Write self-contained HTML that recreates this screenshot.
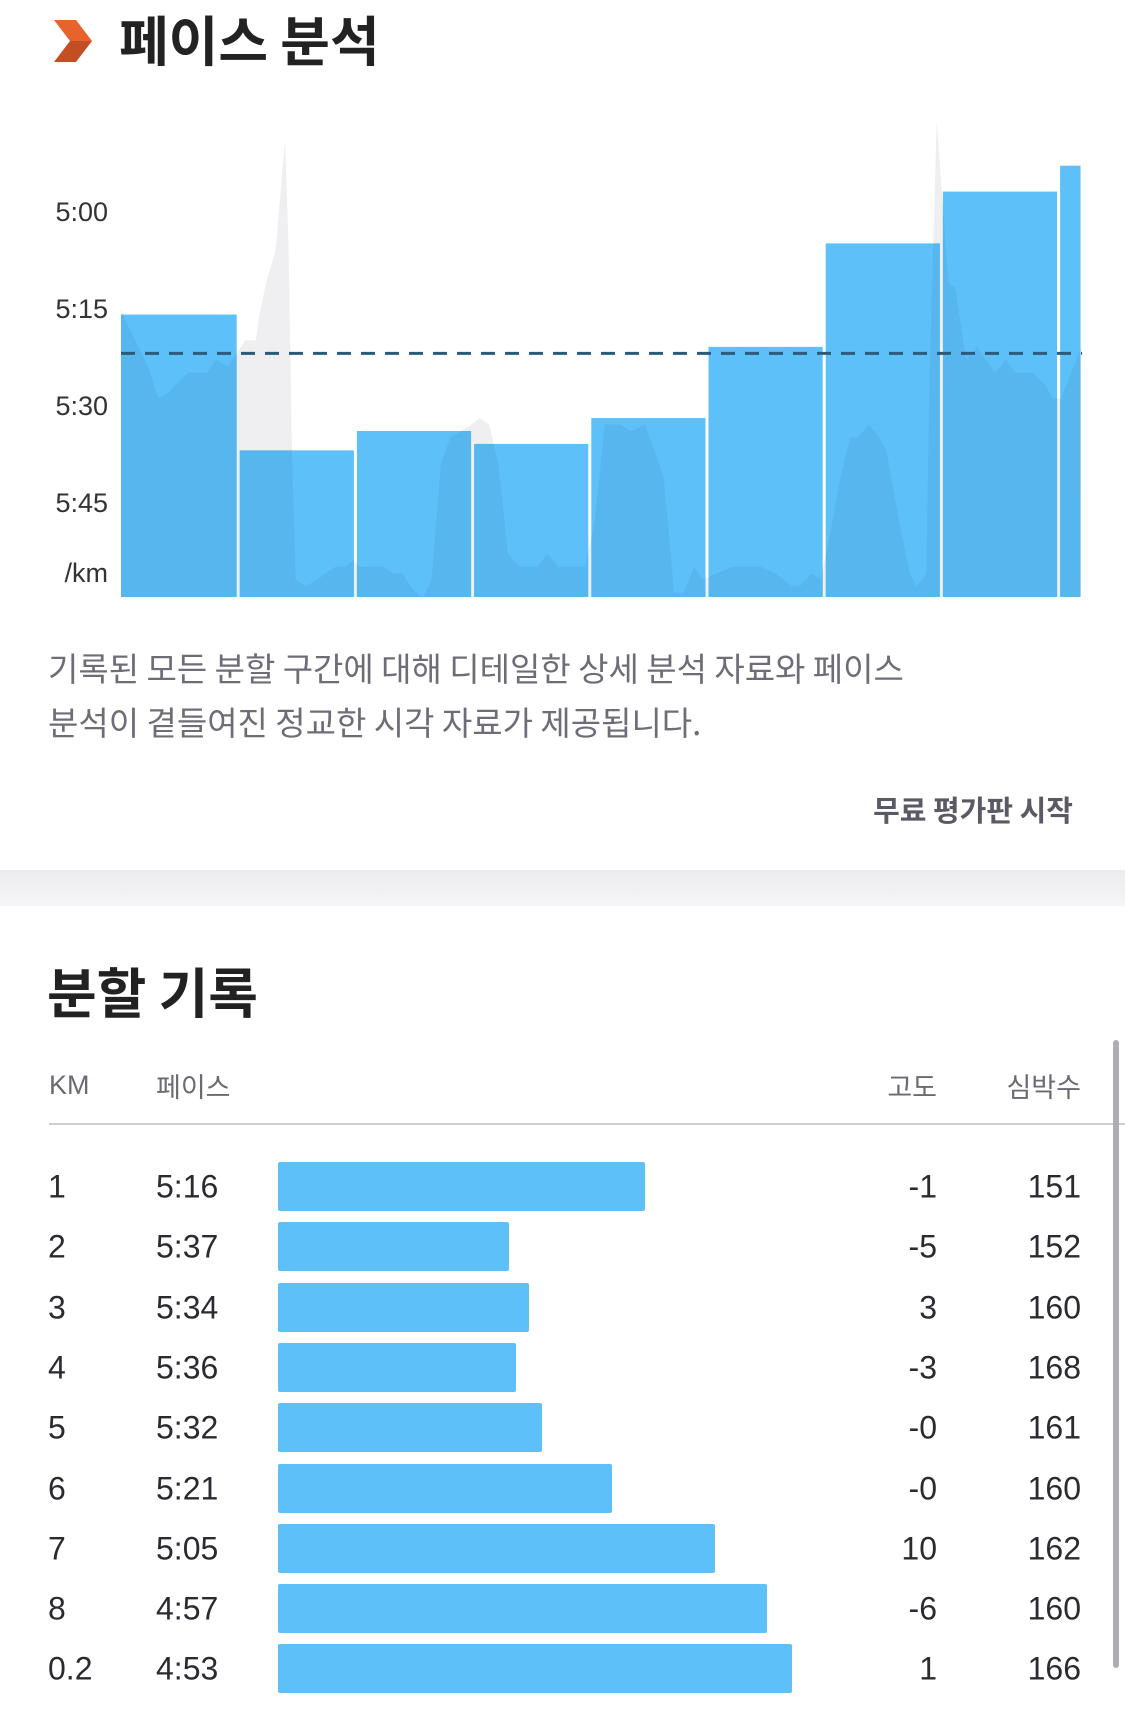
<!DOCTYPE html>
<html><head><meta charset="utf-8">
<style>
body{margin:0;width:1125px;height:1726px;background:#fff;overflow:hidden;font-family:"Liberation Sans","Noto Sans CJK KR",sans-serif;position:relative}
.abs{position:absolute}
.kr{font-family:"Noto Sans CJK KR","Liberation Sans",sans-serif}
.row{position:absolute;left:0;width:1125px;height:60px;font-size:32px;color:#2a2a30}
.row span{position:absolute;top:50%;transform:translateY(-50%)}
</style></head>
<body>
<svg class="abs" style="left:0;top:0" width="110" height="80">
<polygon points="54,20 76,20 92,41 70,41" fill="#e8622b"/>
<polygon points="70,41 92,41 76,62 54,62" fill="#c24e22"/>
</svg>
<div class="abs kr" style="left:119px;top:2px;font-size:54px;font-weight:bold;color:#222;line-height:72px">페이스 분석</div>

<svg id="chart" class="abs" style="left:0;top:0" width="1125" height="620"></svg>

<div class="abs kr" style="left:48px;top:640px;font-size:33px;color:#6d6d78;line-height:54px;width:1040px">기록된 모든 분할 구간에 대해 디테일한 상세 분석 자료와 페이스<br>분석이 곁들여진 정교한 시각 자료가 제공됩니다.</div>
<div class="abs kr" style="right:52px;top:788px;font-size:29px;font-weight:bold;color:#5a5a64">무료 평가판 시작</div>

<div class="abs" style="left:0;top:870px;width:1125px;height:36px;background:linear-gradient(#ececef,#f5f5f7)"></div>

<div class="abs kr" style="left:47px;top:950px;font-size:54px;font-weight:bold;color:#222;line-height:80px">분할 기록</div>

<div class="abs kr" style="left:49px;top:1070px;font-size:27px;color:#6a6a74;font-family:'Liberation Sans',sans-serif">KM</div>
<div class="abs kr" style="left:156px;top:1066px;font-size:27px;color:#6a6a74">페이스</div>
<div class="abs kr" style="right:188px;top:1066px;font-size:27px;color:#6a6a74">고도</div>
<div class="abs kr" style="right:44px;top:1066px;font-size:27px;color:#6a6a74">심박수</div>
<div class="abs" style="left:49px;top:1123px;width:1076px;height:2px;background:#cdcdd6"></div>
<div class="abs" style="left:1113px;top:1040px;width:6px;height:628px;border-radius:3px;background:#aeaeb2"></div>

<div id="rows"></div>

<script>
// ---- chart data ----
const splitKm = [1,1,1,1,1,1,1,1,0.2];
const splitPace = [316,337,334,336,332,321,305,297,293];
const avgPace = 322;
const tickPaces = [300,315,330,345];
const tickLabels = ["5:00","5:15","5:30","5:45"];
const traceKm = [0,0.04,0.23,0.32,0.41,0.51,0.58,0.66,0.73,0.81,0.91,0.99,1.06,1.15,1.18,1.24,1.32,1.40,1.43,1.46,1.49,1.58,1.67,1.83,1.92,1.98,2.04,2.23,2.32,2.40,2.47,2.57,2.65,2.73,2.81,2.90,2.99,3.06,3.14,3.22,3.30,3.40,3.55,3.64,3.73,3.96,4.04,4.13,4.26,4.35,4.47,4.63,4.72,4.80,4.89,4.96,5.21,5.46,5.58,5.73,5.79,5.89,5.97,6.04,6.13,6.22,6.29,6.38,6.47,6.53,6.66,6.73,6.79,6.87,6.90,6.96,7.06,7.12,7.21,7.30,7.46,7.55,7.63,7.70,7.78,7.89,7.95,8.02,8.13,8.19];
const tracePace = [315,317,324,329,328,326,325,325,325,323,324,322,320,320,316,311,306,289,306,338,357,358,357,355,355,354,355,355,356,356,358,360,357,339,335,334,333,332,333,339,353,355,355,353,355,355,348,333,333,334,333,341,359,359,355,357,355,355,356,358,358,356,357,351,342,335,335,333,335,337,350,356,358,356,325,286,311,312,323,321,325,323,325,325,325,327,329,329,324,321];

const NS='http://www.w3.org/2000/svg';
const svg=document.getElementById('chart');
const X0=121, PXKM=117.2, BASE=597;
const xs=k=>X0+k*PXKM;
const ys=p=>211+(p-300)*6.47;
function mk(t,a){const e=document.createElementNS(NS,t);for(const k in a)e.setAttribute(k,a[k]);svg.appendChild(e);return e;}

// tick labels
tickPaces.forEach((p,i)=>{
  const t=mk('text',{x:108,y:ys(p)+10,'text-anchor':'end','font-size':27,fill:'#333','font-family':'Liberation Sans, sans-serif'});
  
  
  t.textContent=tickLabels[i];
});
const u=mk('text',{x:108,y:582,'text-anchor':'end','font-size':27,fill:'#333','font-family':'Liberation Sans, sans-serif'});


u.textContent='/km';

// trace path
let d='M'+xs(traceKm[0])+','+BASE;
traceKm.forEach((k,i)=>{d+=' L'+xs(k).toFixed(1)+','+ys(tracePace[i]).toFixed(1);});
d+=' L'+xs(traceKm[traceKm.length-1])+','+BASE+' Z';
const g=mk('path',{d:d,fill:'#efeff1'});



// bars + clip
const defs=mk('defs',{});
const cp=document.createElementNS(NS,'clipPath');cp.setAttribute('id','barclip');defs.appendChild(cp);
let cum=0;
splitKm.forEach((len,i)=>{
  const x1=xs(cum)+(i?1.5:0), x2=xs(cum+len)-1.5;
  const r=mk('rect',{x:x1,y:ys(splitPace[i]),width:x2-x1,height:BASE-ys(splitPace[i]),fill:'#5ec0f8'});
  
  
  const c=document.createElementNS(NS,'rect');
  c.setAttribute('x',x1);c.setAttribute('y',ys(splitPace[i]));c.setAttribute('width',x2-x1);c.setAttribute('height',BASE-ys(splitPace[i]));
  cp.appendChild(c);
  cum+=len;
});
const o=mk('path',{d:d,fill:'#4a9fd8','fill-opacity':0.3,'clip-path':'url(#barclip)'});


const ln=mk('line',{x1:X0,x2:xs(8.2),y1:ys(avgPace),y2:ys(avgPace),stroke:'#2b5a7a','stroke-width':3,'stroke-dasharray':'14,10'});



// ---- table data ----
const rowKm=["1","2","3","4","5","6","7","8","0.2"];
const rowPaceLabel=["5:16","5:37","5:34","5:36","5:32","5:21","5:05","4:57","4:53"];
const rowElev=["-1","-5","3","-3","-0","-0","10","-6","1"];
const rowHr=["151","152","160","168","161","160","162","160","166"];
const rows=document.getElementById('rows');
splitPace.forEach((p,i)=>{
  const r=document.createElement('div');
  r.className='row';
  r.style.top=(1157+i*60.3)+'px';
  
  
  const len=(373-p)*6.43;
  r.innerHTML='<span style="left:48px">'+rowKm[i]+'</span><span style="left:156px">'+rowPaceLabel[i]+'</span>'+
   '<div style="position:absolute;left:278px;top:5px;height:49px;width:'+len+'px;background:#5ec0f8;border-radius:2px"></div>'+
   '<span style="right:188px">'+rowElev[i]+'</span><span style="right:44px">'+rowHr[i]+'</span>';
  rows.appendChild(r);
});
</script>
</body></html>
